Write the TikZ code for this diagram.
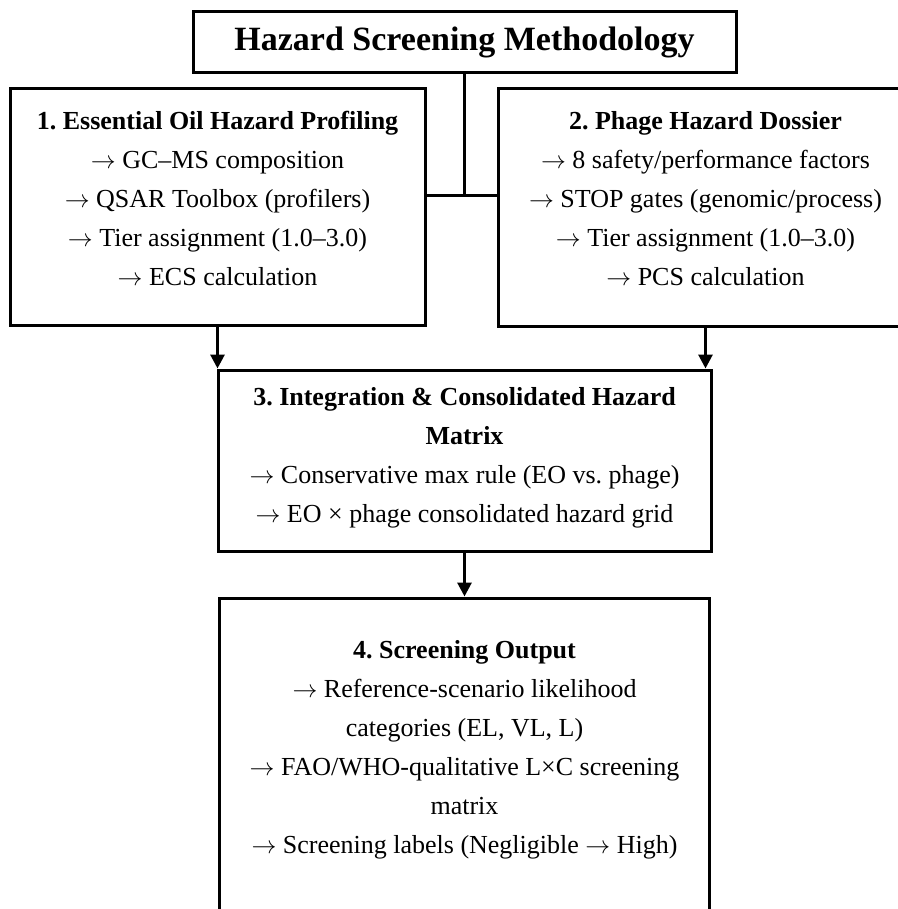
\documentclass[tikz,border=0pt]{standalone}
\usepackage{fontspec}
\setmainfont{Liberation Serif}
\frenchspacing
\usetikzlibrary{arrows.meta, positioning}

% extra depth below the last line, lifts the text inside a tall box
\newcommand{\padbelow}[1]{\rule[-#1pt]{0pt}{#1pt}}

\begin{document}
\begin{tikzpicture}[x=1pt,y=-1pt,node distance=3cm,on grid,>={Triangle[length=14pt,width=14pt]}]
    \tikzstyle{block}=[shape=rectangle,draw,line width=3pt,align=center,inner sep=0pt,font=\fontsize{26}{39}\selectfont]

    \useasboundingbox (0,0) rectangle (897,909);

    \node[block,minimum width=543pt,minimum height=61pt,font=\fontsize{34}{38}\selectfont\bfseries] (title) at (464.5,42.5) {Hazard Screening Methodology};

    \node[block,minimum width=415pt,minimum height=237pt,below left=164.5pt and 247pt of title] (oil)
      {\textbf{1. Essential Oil Hazard Profiling}\\
       $\rightarrow$ GC–MS composition\\
       $\rightarrow$ QSAR Toolbox (profilers)\\
       $\rightarrow$ Tier assignment (1.0–3.0)\\
       $\rightarrow$ ECS calculation\padbelow{18}};
    \node[block,minimum width=415pt,minimum height=237pt,below right=165pt and 241pt of title] (phage)
      {\textbf{2. Phage Hazard Dossier}\\
       $\rightarrow$ 8 safety/performance factors\\
       $\rightarrow$ STOP gates (genomic/process)\\
       $\rightarrow$ Tier assignment (1.0–3.0)\\
       $\rightarrow$ PCS calculation\padbelow{18}};
    \node[block,minimum width=493pt,minimum height=181pt,below=418pt of title] (merge)
      {\textbf{3. Integration \& Consolidated Hazard}\\
       \textbf{Matrix}\\
       $\rightarrow$ Conservative max rule (EO vs. phage)\\
       $\rightarrow$ EO × phage consolidated hazard grid\padbelow{11}};
    \node[block,minimum width=490pt,minimum height=342pt,below=308.5pt of merge] (output)
      {\textbf{4. Screening Output}\\
       $\rightarrow$ Reference-scenario likelihood\\
       categories (EL, VL, L)\\
       $\rightarrow$ FAO/WHO-qualitative L×C screening\\
       matrix\\
       $\rightarrow$ Screening labels (Negligible $\rightarrow$ High)\padbelow{45}};

    \coordinate[below=121pt of title.south] (join);

    \draw[line width=3pt] (title.south) -- (join);
    \draw[line width=3pt] (oil.east |- join) -- (phage.west |- join);

    \draw[->,line width=3pt] (oil.south) -- (oil.south |- merge.north);
    \draw[->,line width=3pt] (phage.south) -- (phage.south |- merge.north);
    \draw[->,line width=3pt] (merge.south) -- (output.north);

\end{tikzpicture}
\end{document}
